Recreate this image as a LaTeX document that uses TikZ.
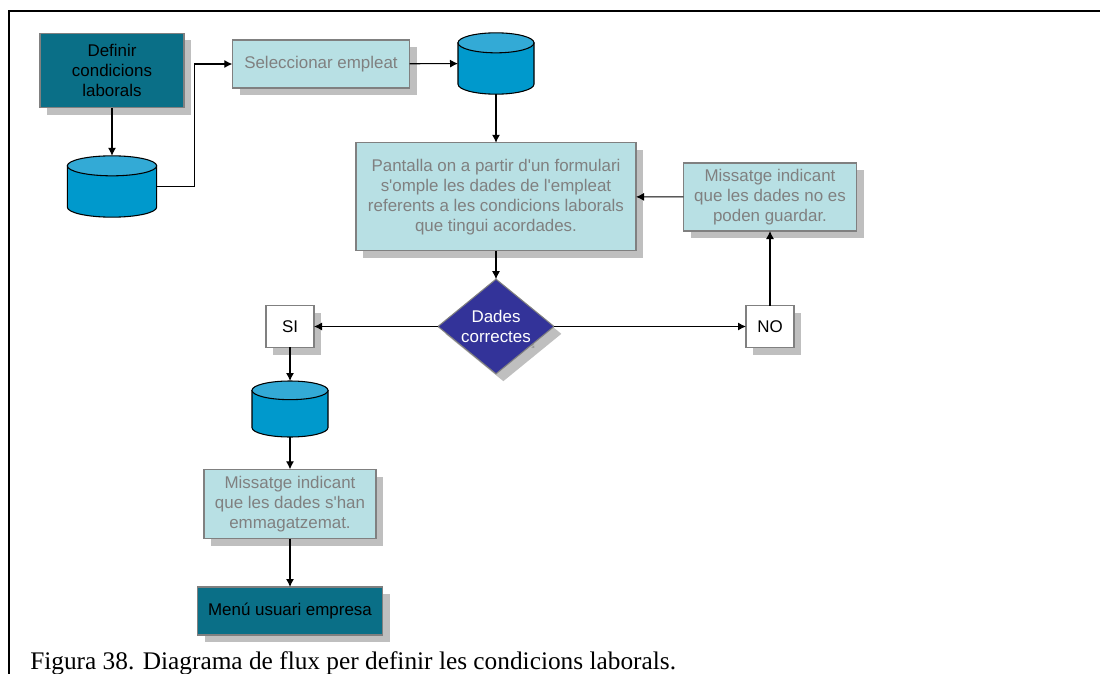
\documentclass[tikz,border=0pt]{standalone}
\usepackage{fontspec}
\setmainfont{Liberation Serif}
\setsansfont{Liberation Sans}[Ligatures=TeXOff]
\usetikzlibrary{shapes.geometric,shadows,arrows.meta}
\definecolor{tealbox}{HTML}{0A6F87}
\definecolor{lightbox}{HTML}{B8E0E4}
\definecolor{dbblue}{HTML}{0099CC}
\definecolor{dbtop}{HTML}{33AAD6}
\definecolor{question}{HTML}{333399}
% name, position, width, height, end radius (all in pt)
\newcommand{\dbnode}[5]{
	\node[minimum width=#3pt, minimum height=#4pt, inner sep=0pt, outer sep=0pt] at #2 (#1) {};
	\draw[thick, fill=dbblue] ([yshift=-#5pt]#1.north west) -- ([yshift=#5pt]#1.south west)
		arc[start angle=180, end angle=360, x radius=#3pt/2, y radius=#5pt]
		-- ([yshift=-#5pt]#1.north east) -- cycle;
	\draw[thick, fill=dbtop] ([yshift=-#5pt]#1.north) ellipse[x radius=#3pt/2, y radius=#5pt];
}
\begin{document}
\begin{tikzpicture}[x=0.75pt, y=-0.75pt,
		mybox/.style={draw=gray, thick, align=center, font=\sffamily\fontsize{12.7}{15}\selectfont, inner sep=0pt, outer sep=0pt, drop shadow={shadow xshift=5.5pt, shadow yshift=-5.5pt, fill=black!25, opacity=1}},
		myfinal/.style={mybox, fill=tealbox, text=black},
		mystep/.style={mybox, fill=lightbox, text=black!50},
		myanswer/.style={mybox, fill=white, text=black},
		myarrow/.style={thick, -{Latex[length=6pt, width=6pt]}}]
	\useasboundingbox (0,0) rectangle (1100,674);
	\draw[very thick] (9,674) -- (9,11) -- (1100,11);

	\node[myfinal, minimum width=108pt, minimum height=56pt] at (112,70.5) (definir) {Definir\\condicions\\laborals};
	\dbnode{db1}{(112,186.5)}{67}{46}{7.5}
	\node[mystep, minimum width=133pt, minimum height=36pt] at (321,64) (seleccionar) {Seleccionar empleat};
	\dbnode{db2}{(496,63.5)}{57}{46}{7.5}
	\node[mystep, minimum width=210pt, minimum height=81pt] at (496,196.75) (pantalla) {Pantalla on a partir d'un formulari\\s'omple les dades de l'empleat\\referents a les condicions laborals\\que tingui acordades.};
	\node[mystep, minimum width=130pt, minimum height=51pt] at (770,197) (nodades) {Missatge indicant\\que les dades no es\\poden guardar.};
	\node[mybox, diamond, shape aspect=1.22, fill=question, text=white, minimum width=87pt, minimum height=71pt] at (496,326.5) (correctes) {Dades\\correctes};
	\node[text=gray, font=\sffamily\tiny, inner sep=0pt] at (533,347) (resta) {s};
	\node[myanswer, minimum width=36pt, minimum height=31pt] at (290,326.5) (si) {SI};
	\node[myanswer, minimum width=36pt, minimum height=31pt] at (770,326.5) (no) {NO};
	\dbnode{db3}{(290,409)}{57}{42}{7}
	\node[mystep, minimum width=129pt, minimum height=52pt] at (290,504) (sidades) {Missatge indicant\\que les dades s'han\\emmagatzemat.};
	\node[myfinal, minimum width=139pt, minimum height=36pt] at (290,611) (menu) {Menú usuari empresa};
	\node[anchor=base west, inner sep=0pt, font=\fontsize{19}{22}\selectfont] at (30,669) (caption) {Figura 38. Diagrama de flux per definir les condicions laborals.};

	\path
	(definir) edge[myarrow] (db1)
	(seleccionar) edge[myarrow] (db2)
	(db2) edge[myarrow] (pantalla)
	(pantalla) edge[myarrow] (correctes)
	(nodades) edge[myarrow] (pantalla)
	(correctes) edge[myarrow] (si)
	(correctes) edge[myarrow] (no)
	(no) edge[myarrow] (nodades)
	(si) edge[myarrow] (db3)
	(db3) edge[myarrow] (sidades)
	(sidades) edge[myarrow] (menu);
	\draw[myarrow] (db1.east) -- ++(38,0) |- (seleccionar.west);
\end{tikzpicture}
\end{document}
